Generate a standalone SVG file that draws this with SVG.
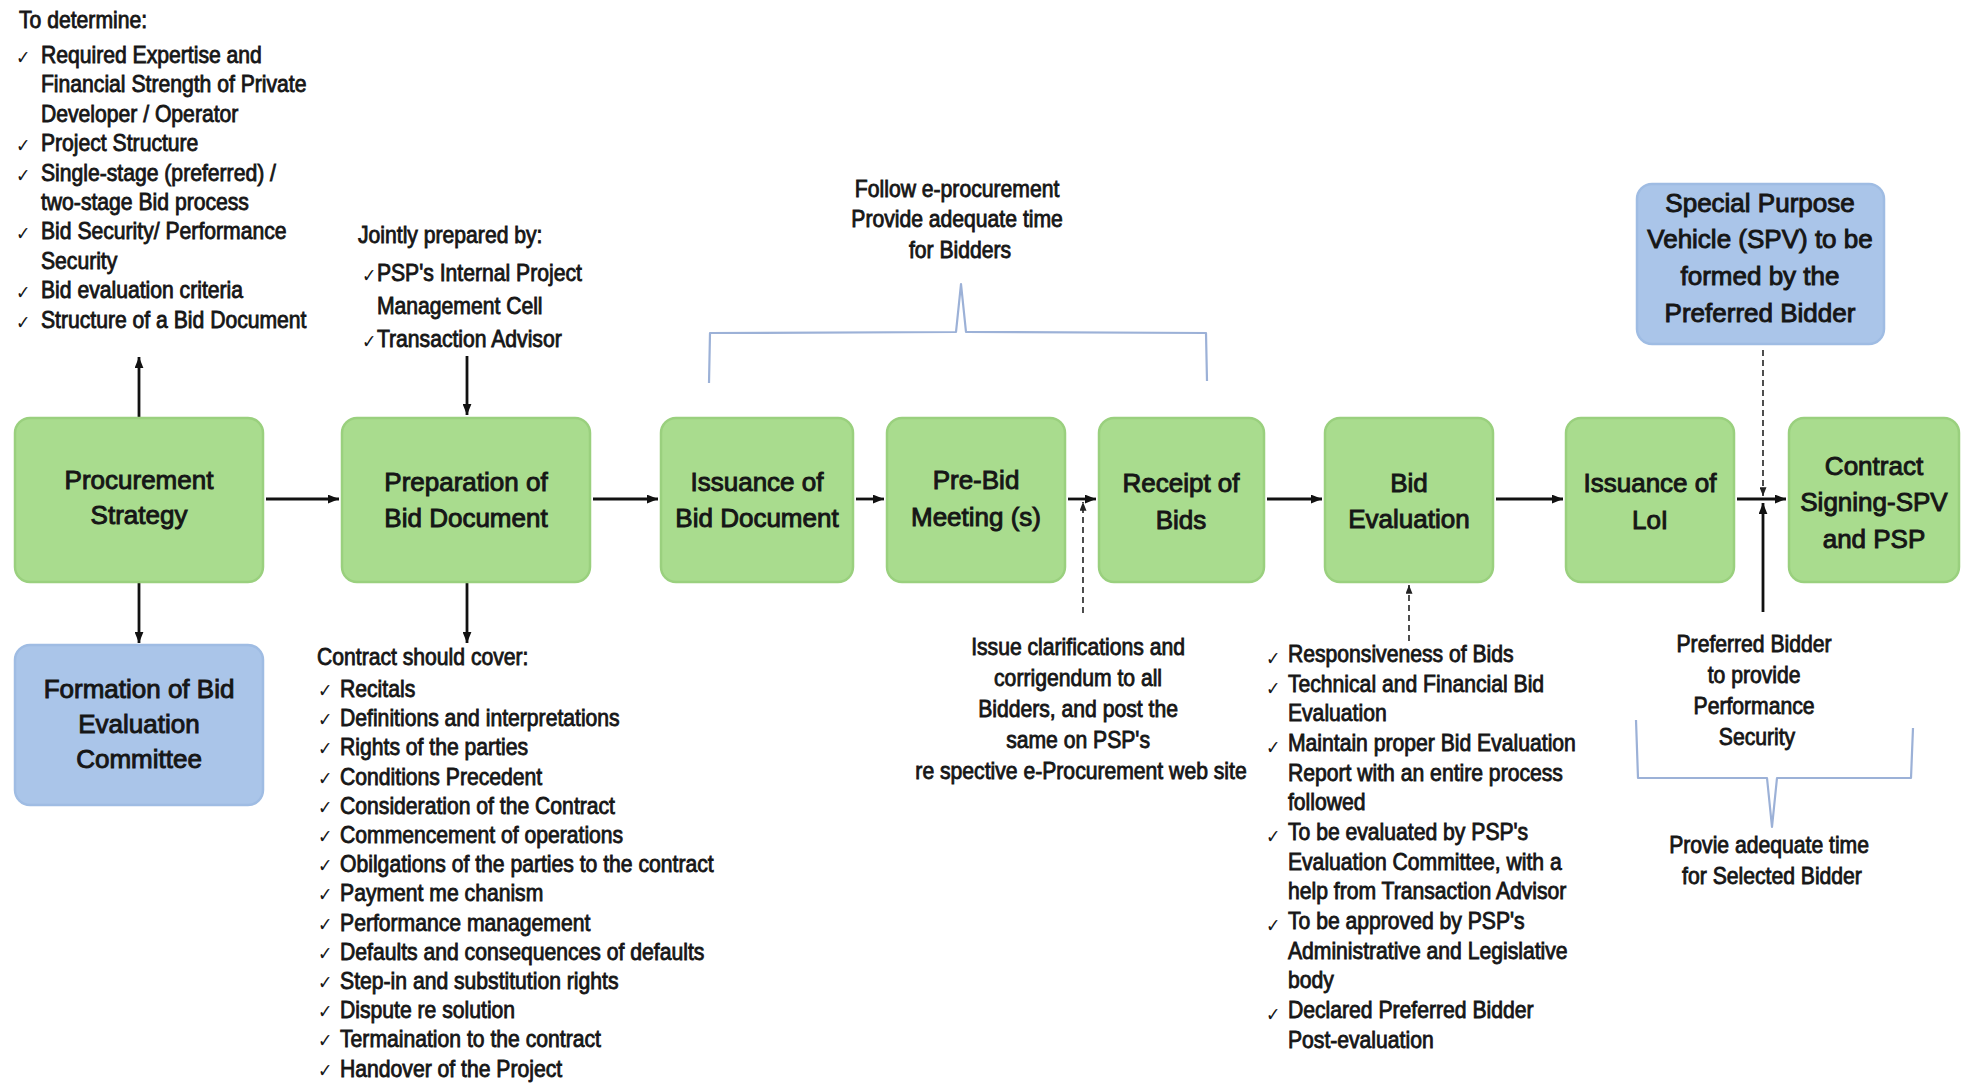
<svg xmlns="http://www.w3.org/2000/svg" width="1964" height="1084" viewBox="0 0 1964 1084">
  <style>
    text { font-family: "Liberation Sans", Arial, sans-serif; fill: #161616; }
    .lst { font-size: 23.5px; stroke: #161616; stroke-width: 0.85; }
    .ctr { font-size: 23.5px; stroke: #161616; stroke-width: 0.85; text-anchor: middle; }
    .lbl { font-size: 26px; stroke: #161616; stroke-width: 0.95; text-anchor: middle; }
    .chk { font-family: "DejaVu Sans", sans-serif; font-size: 19px; fill: #222; }
    .green { fill: #a9dc8e; stroke: #9ad07e; stroke-width: 2.5; }
    .blue { fill: #aac5e9; stroke: #9fbce3; stroke-width: 2.5; }
    .arrow { stroke: #111; stroke-width: 2.8; fill: none; marker-end: url(#head); }
    .dash { stroke: #222; stroke-width: 1.6; fill: none; stroke-dasharray: 6 4; marker-end: url(#headSmall); }
    .brace { stroke: #9cb1d7; stroke-width: 2.2; fill: none; stroke-linejoin: round; }
  </style>
  <defs>
    <marker id="head" viewBox="0 0 10 8" refX="10" refY="4" markerWidth="11" markerHeight="9" markerUnits="userSpaceOnUse" orient="auto">
      <path d="M0,0 L10,4 L0,8 z" fill="#111"/>
    </marker>
    <marker id="headSmall" viewBox="0 0 10 8" refX="10" refY="4" markerWidth="9" markerHeight="7" markerUnits="userSpaceOnUse" orient="auto">
      <path d="M0,0 L10,4 L0,8 z" fill="#222"/>
    </marker>
  </defs>

  <rect width="1964" height="1084" fill="#ffffff"/>

  <!-- connectors -->
  <g id="connectors">
    <path class="arrow" d="M139,417 L139,357"/>
    <path class="arrow" d="M139,583 L139,643"/>
    <path class="arrow" d="M266,499 L339,499"/>
    <path class="arrow" d="M467,356 L467,415"/>
    <path class="arrow" d="M467,583 L467,643"/>
    <path class="arrow" d="M593,499 L658,499"/>
    <path class="arrow" d="M856,499 L884,499"/>
    <path class="arrow" d="M1068,499 L1096,499"/>
    <path class="dash" d="M1083,613 L1083,502"/>
    <path class="arrow" d="M1267,499 L1322,499"/>
    <path class="dash" d="M1409,641 L1409,585"/>
    <path class="arrow" d="M1496,499 L1563,499"/>
    <path class="arrow" d="M1737,499 L1786,499"/>
    <path class="dash" d="M1763,350 L1763,496"/>
    <path class="arrow" d="M1763,612 L1763,503"/>
    <!-- span braces -->
    <path class="brace" d="M709,383 L710,333 L956,332 L961,284 L966,332 L1206,333 L1207,381"/>
    <path class="brace" d="M1636,720 L1638,778 L1767,778 L1772,827 L1777,778 L1911,778 L1913,728"/>
  </g>

  <!-- process nodes -->
  <g id="procurement-strategy">
    <rect class="green" x="15" y="418" width="248" height="164" rx="15"/>
    <text class="lbl" x="139" y="489">Procurement</text>
    <text class="lbl" x="139" y="524">Strategy</text>
  </g>
  <g id="bid-evaluation-committee">
    <rect class="blue" x="15" y="645" width="248" height="160" rx="15"/>
    <text class="lbl" x="139" y="698">Formation of Bid</text>
    <text class="lbl" x="139" y="733">Evaluation</text>
    <text class="lbl" x="139" y="768">Committee</text>
  </g>
  <g id="preparation-bid-document">
    <rect class="green" x="342" y="418" width="248" height="164" rx="15"/>
    <text class="lbl" x="466" y="491">Preparation of</text>
    <text class="lbl" x="466" y="527">Bid Document</text>
  </g>
  <g id="issuance-bid-document">
    <rect class="green" x="661" y="418" width="192" height="164" rx="15"/>
    <text class="lbl" x="757" y="491">Issuance of</text>
    <text class="lbl" x="757" y="527">Bid Document</text>
  </g>
  <g id="pre-bid-meeting">
    <rect class="green" x="887" y="418" width="178" height="164" rx="15"/>
    <text class="lbl" x="976" y="489">Pre-Bid</text>
    <text class="lbl" x="976" y="526">Meeting (s)</text>
  </g>
  <g id="receipt-of-bids">
    <rect class="green" x="1099" y="418" width="165" height="164" rx="15"/>
    <text class="lbl" x="1181" y="492">Receipt of</text>
    <text class="lbl" x="1181" y="529">Bids</text>
  </g>
  <g id="bid-evaluation">
    <rect class="green" x="1325" y="418" width="168" height="164" rx="15"/>
    <text class="lbl" x="1409" y="492">Bid</text>
    <text class="lbl" x="1409" y="528">Evaluation</text>
  </g>
  <g id="issuance-of-loi">
    <rect class="green" x="1566" y="418" width="168" height="164" rx="15"/>
    <text class="lbl" x="1650" y="492">Issuance of</text>
    <text class="lbl" x="1650" y="529">LoI</text>
  </g>
  <g id="contract-signing">
    <rect class="green" x="1789" y="418" width="170" height="164" rx="15"/>
    <text class="lbl" x="1874" y="475">Contract</text>
    <text class="lbl" x="1874" y="511">Signing-SPV</text>
    <text class="lbl" x="1874" y="548">and PSP</text>
  </g>
  <g id="spv-formation">
    <rect class="blue" x="1637" y="184" width="247" height="160" rx="15"/>
    <text class="lbl" x="1760" y="212">Special Purpose</text>
    <text class="lbl" x="1760" y="248">Vehicle (SPV) to be</text>
    <text class="lbl" x="1760" y="285">formed by the</text>
    <text class="lbl" x="1760" y="322">Preferred Bidder</text>
  </g>

  <!-- annotation: procurement strategy scope -->
  <g id="note-to-determine" transform="translate(19,0) scale(0.9,1)">
    <text class="lst" x="0" y="28">To determine:</text>
    <g class="chk">
      <text x="-3" y="64">✓</text>
      <text x="-3" y="152">✓</text>
      <text x="-3" y="182">✓</text>
      <text x="-3" y="240">✓</text>
      <text x="-3" y="299">✓</text>
      <text x="-3" y="329">✓</text>
    </g>
    <text class="lst">
      <tspan x="24.4" y="63">Required Expertise and</tspan>
      <tspan x="24.4" y="92">Financial Strength of Private</tspan>
      <tspan x="24.4" y="122">Developer / Operator</tspan>
      <tspan x="24.4" y="151">Project Structure</tspan>
      <tspan x="24.4" y="181">Single-stage (preferred) /</tspan>
      <tspan x="24.4" y="210">two-stage Bid process</tspan>
      <tspan x="24.4" y="239">Bid Security/ Performance</tspan>
      <tspan x="24.4" y="269">Security</tspan>
      <tspan x="24.4" y="298">Bid evaluation criteria</tspan>
      <tspan x="24.4" y="328">Structure of a Bid Document</tspan>
    </text>
  </g>

  <!-- annotation: who prepares the bid document -->
  <g id="note-jointly-prepared" transform="translate(358,0) scale(0.9,1)">
    <text class="lst" x="0" y="243">Jointly prepared by:</text>
    <g class="chk">
      <text x="4" y="282">✓</text>
      <text x="4" y="348">✓</text>
    </g>
    <text class="lst">
      <tspan x="21" y="281">PSP's Internal Project</tspan>
      <tspan x="21" y="314">Management Cell</tspan>
      <tspan x="21" y="347">Transaction Advisor</tspan>
    </text>
  </g>

  <!-- annotation: contract contents -->
  <g id="note-contract-cover" transform="translate(317,0) scale(0.9,1)">
    <text class="lst" x="0" y="665">Contract should cover:</text>
    <g class="chk">
      <text x="1" y="697">✓</text>
      <text x="1" y="726">✓</text>
      <text x="1" y="755">✓</text>
      <text x="1" y="785">✓</text>
      <text x="1" y="814">✓</text>
      <text x="1" y="843">✓</text>
      <text x="1" y="872">✓</text>
      <text x="1" y="901">✓</text>
      <text x="1" y="931">✓</text>
      <text x="1" y="960">✓</text>
      <text x="1" y="989">✓</text>
      <text x="1" y="1018">✓</text>
      <text x="1" y="1047">✓</text>
      <text x="1" y="1077">✓</text>
    </g>
    <text class="lst">
      <tspan x="25.6" y="697">Recitals</tspan>
      <tspan x="25.6" y="726">Definitions and interpretations</tspan>
      <tspan x="25.6" y="755">Rights of the parties</tspan>
      <tspan x="25.6" y="785">Conditions Precedent</tspan>
      <tspan x="25.6" y="814">Consideration of the Contract</tspan>
      <tspan x="25.6" y="843">Commencement of operations</tspan>
      <tspan x="25.6" y="872">Obilgations of the parties to the contract</tspan>
      <tspan x="25.6" y="901">Payment me chanism</tspan>
      <tspan x="25.6" y="931">Performance management</tspan>
      <tspan x="25.6" y="960">Defaults and consequences of defaults</tspan>
      <tspan x="25.6" y="989">Step-in and substitution rights</tspan>
      <tspan x="25.6" y="1018">Dispute re solution</tspan>
      <tspan x="25.6" y="1047">Termaination to the contract</tspan>
      <tspan x="25.6" y="1077">Handover of the Project</tspan>
    </text>
  </g>

  <!-- annotation: e-procurement span -->
  <g id="note-e-procurement" transform="translate(960,0) scale(0.9,1)">
    <text class="ctr">
      <tspan x="0" y="197">Follow e-procurement</tspan>
      <tspan x="0" y="227">Provide adequate time</tspan>
      <tspan x="0" y="258">for Bidders</tspan>
    </text>
  </g>

  <!-- annotation: clarifications after pre-bid meeting -->
  <g id="note-clarifications" transform="translate(1081,0) scale(0.9,1)">
    <text class="ctr">
      <tspan x="0" y="655">Issue clarifications and</tspan>
      <tspan x="0" y="686">corrigendum to all</tspan>
      <tspan x="0" y="717">Bidders, and post the</tspan>
      <tspan x="0" y="748">same on PSP's</tspan>
      <tspan x="0" y="779">re spective e-Procurement web site</tspan>
    </text>
  </g>

  <!-- annotation: evaluation requirements -->
  <g id="note-evaluation" transform="translate(1266,0) scale(0.9,1)">
    <g class="chk">
      <text x="0" y="665">✓</text>
      <text x="0" y="695">✓</text>
      <text x="0" y="754">✓</text>
      <text x="0" y="843">✓</text>
      <text x="0" y="932">✓</text>
      <text x="0" y="1021">✓</text>
    </g>
    <text class="lst">
      <tspan x="24.4" y="662">Responsiveness of Bids</tspan>
      <tspan x="24.4" y="692">Technical and Financial Bid</tspan>
      <tspan x="24.4" y="721">Evaluation</tspan>
      <tspan x="24.4" y="751">Maintain proper Bid Evaluation</tspan>
      <tspan x="24.4" y="781">Report with an entire process</tspan>
      <tspan x="24.4" y="810">followed</tspan>
      <tspan x="24.4" y="840">To be evaluated by PSP's</tspan>
      <tspan x="24.4" y="870">Evaluation Committee, with a</tspan>
      <tspan x="24.4" y="899">help from Transaction Advisor</tspan>
      <tspan x="24.4" y="929">To be approved by PSP's</tspan>
      <tspan x="24.4" y="959">Administrative and Legislative</tspan>
      <tspan x="24.4" y="988">body</tspan>
      <tspan x="24.4" y="1018">Declared Preferred Bidder</tspan>
      <tspan x="24.4" y="1048">Post-evaluation</tspan>
    </text>
  </g>

  <!-- annotation: performance security -->
  <g id="note-performance-security" transform="translate(1757,0) scale(0.9,1)">
    <text class="ctr">
      <tspan x="0" y="652">Preferred Bidder</tspan>
      <tspan x="0" y="683">to provide</tspan>
      <tspan x="0" y="714">Performance</tspan>
      <tspan x="0" y="745">Security</tspan>
    </text>
  </g>

  <!-- annotation: time for selected bidder -->
  <g id="note-selected-bidder" transform="translate(1772,0) scale(0.9,1)">
    <text class="ctr">
      <tspan x="0" y="853">Provie adequate time</tspan>
      <tspan x="0" y="884">for Selected Bidder</tspan>
    </text>
  </g>
</svg>
